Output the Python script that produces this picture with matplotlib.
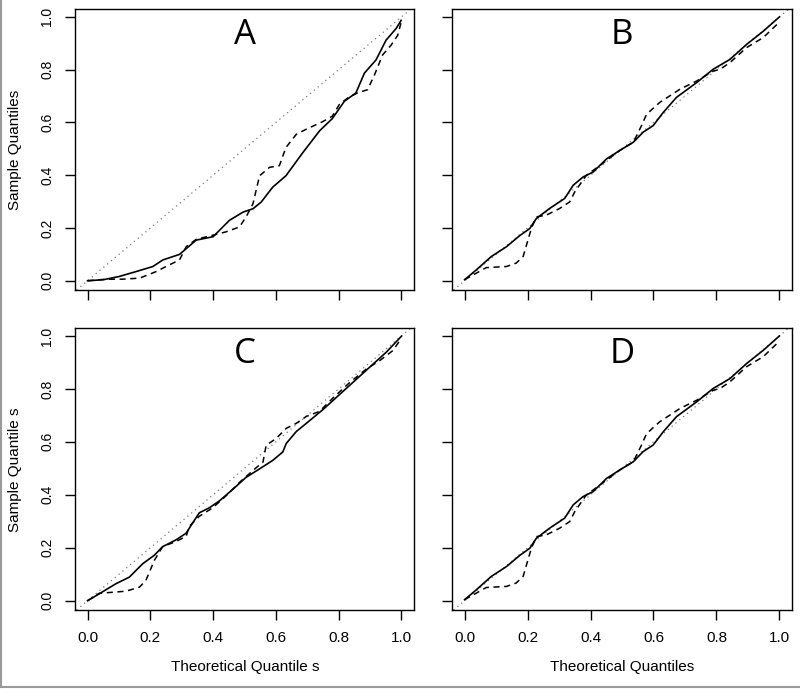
import matplotlib
matplotlib.use('Agg')
import matplotlib.pyplot as plt

# Panel A
a_solid_x = [0, 0.05, 0.10, 0.155, 0.208, 0.24, 0.293, 0.346, 0.40, 0.452, 0.495, 0.527, 0.553,
             0.59, 0.632, 0.686, 0.739, 0.78, 0.818, 0.855, 0.882, 0.919, 0.951, 0.983, 0.999]
a_solid_y = [0, 0.004, 0.016, 0.035, 0.054, 0.079, 0.10, 0.154, 0.167, 0.229, 0.26, 0.273, 0.298,
             0.355, 0.398, 0.486, 0.568, 0.615, 0.68, 0.712, 0.787, 0.837, 0.912, 0.956, 0.987]
a_dash_x = [0, 0.06, 0.112, 0.166, 0.219, 0.25, 0.293, 0.314, 0.346, 0.40, 0.44, 0.484, 0.505,
            0.527, 0.548, 0.58, 0.611, 0.632, 0.665, 0.696, 0.749, 0.78, 0.802, 0.829, 0.86,
            0.892, 0.914, 0.94, 0.967, 0.988, 0.999]
a_dash_y = [0, 0.006, 0.006, 0.01, 0.035, 0.054, 0.079, 0.129, 0.157, 0.173, 0.185, 0.204, 0.242,
            0.292, 0.398, 0.43, 0.436, 0.505, 0.555, 0.574, 0.603, 0.624, 0.668, 0.693, 0.712,
            0.724, 0.78, 0.856, 0.893, 0.93, 0.98]

# Panel B
b_solid_x = [0, 0.037, 0.085, 0.133, 0.175, 0.207, 0.228, 0.27, 0.318, 0.345, 0.376, 0.408, 0.451,
             0.493, 0.536, 0.567, 0.599, 0.631, 0.673, 0.737, 0.79, 0.843, 0.896, 0.949, 1.0]
b_solid_y = [0.004, 0.041, 0.092, 0.129, 0.171, 0.198, 0.236, 0.274, 0.312, 0.362, 0.393, 0.412, 0.462,
             0.494, 0.525, 0.563, 0.588, 0.638, 0.695, 0.751, 0.802, 0.839, 0.896, 0.946, 1.0]
b_dash_x = [0, 0.069, 0.133, 0.164, 0.186, 0.212, 0.228, 0.26, 0.302, 0.334, 0.35, 0.387, 0.43,
            0.493, 0.536, 0.562, 0.578, 0.62, 0.684, 0.737, 0.79, 0.811, 0.843, 0.896, 0.949, 0.997]
b_dash_y = [0.004, 0.05, 0.054, 0.067, 0.092, 0.198, 0.242, 0.249, 0.274, 0.299, 0.337, 0.40, 0.437,
            0.494, 0.525, 0.588, 0.631, 0.676, 0.726, 0.757, 0.795, 0.801, 0.827, 0.884, 0.922, 0.977]

# Panel C
c_solid_x = [0, 0.037, 0.09, 0.133, 0.176, 0.213, 0.239, 0.282, 0.314, 0.335, 0.356, 0.388, 0.42,
             0.463, 0.505, 0.548, 0.59, 0.622, 0.633, 0.665, 0.697, 0.75, 0.803, 0.856, 0.91, 0.952, 1.0]
c_solid_y = [0, 0.026, 0.064, 0.089, 0.14, 0.172, 0.204, 0.23, 0.255, 0.294, 0.332, 0.351, 0.377,
             0.421, 0.466, 0.498, 0.53, 0.562, 0.594, 0.639, 0.67, 0.722, 0.779, 0.836, 0.894, 0.939, 0.999]
c_dash_x = [0, 0.037, 0.08, 0.122, 0.165, 0.186, 0.213, 0.239, 0.282, 0.314, 0.324, 0.356, 0.399,
            0.441, 0.484, 0.527, 0.559, 0.569, 0.601, 0.633, 0.665, 0.697, 0.739, 0.782, 0.835,
            0.888, 0.931, 0.973, 0.995]
c_dash_y = [0, 0.028, 0.032, 0.036, 0.051, 0.077, 0.153, 0.204, 0.224, 0.243, 0.281, 0.319, 0.351,
            0.396, 0.447, 0.492, 0.524, 0.587, 0.613, 0.651, 0.67, 0.696, 0.715, 0.766, 0.824,
            0.875, 0.907, 0.945, 0.983]

# Panel D (same sample as B)
d_solid_x, d_solid_y = b_solid_x, b_solid_y
d_dash_x, d_dash_y = b_dash_x, b_dash_y

panels = [
    ('A', a_solid_x, a_solid_y, a_dash_x, a_dash_y),
    ('B', b_solid_x, b_solid_y, b_dash_x, b_dash_y),
    ('C', c_solid_x, c_solid_y, c_dash_x, c_dash_y),
    ('D', d_solid_x, d_solid_y, d_dash_x, d_dash_y),
]
ticks = [0.0, 0.2, 0.4, 0.6, 0.8, 1.0]
tick_labels = ['0.0', '0.2', '0.4', '0.6', '0.8', '1.0']

W, H = 800, 689
fig = plt.figure(figsize=(8, 6.89), dpi=100)

# axes boxes in pixels: left, top, right, bottom
boxes = [(75, 9, 414, 290), (452, 9, 792, 290), (75, 328, 414, 610), (452, 328, 792, 610)]

label_font = ['Liberation Sans Narrow', 'Liberation Sans', 'DejaVu Sans']

for i, (box, p) in enumerate(zip(boxes, panels)):
    l, t, r, b = box
    ax = fig.add_axes([l / W, (H - b) / H, (r - l) / W, (b - t) / H])
    name, sx, sy, dx, dy = p
    ax.axline((0, 0), (1, 1), color='#777777', linestyle=(0, (1, 3)), linewidth=0.9)
    ax.plot(dx, dy, color='black', linestyle=(0, (4, 3)), linewidth=1.1)
    ax.plot(sx, sy, color='black', linewidth=1.2)
    ax.set_xlim(-0.04, 1.04)
    ax.set_ylim(-0.035, 1.03)
    ax.set_xticks(ticks)
    ax.set_yticks(ticks)
    if i >= 2:
        ax.set_xticklabels(tick_labels, family=label_font, fontsize=11)
    else:
        ax.set_xticklabels([])
    if i % 2 == 0:
        ax.set_yticklabels(tick_labels, family=['Liberation Sans', 'DejaVu Sans'], fontsize=10,
                           rotation=90, va='center')
    else:
        ax.set_yticklabels([])
    ax.tick_params(direction='out', length=7, width=1, pad=8, colors='black')
    for s in ax.spines.values():
        s.set_linewidth(1.0)
    ax.text(0.5, 0.93, name, ha='center', va='center', fontsize=25,
            family=['Open Sans', 'DejaVu Sans'])

fig.text(15 / W, 1 - 150 / H, 'Sample Quantiles', rotation=90, ha='center', va='center',
         fontsize=11, family=label_font)
fig.text(15 / W, 1 - 470 / H, 'Sample Quantile s', rotation=90, ha='center', va='center',
         fontsize=11, family=label_font)
fig.text(245 / W, 1 - 667 / H, 'Theoretical Quantile s', ha='center', va='center',
         fontsize=11, family=label_font)
fig.text(622 / W, 1 - 667 / H, 'Theoretical Quantiles', ha='center', va='center',
         fontsize=11, family=label_font)

# gray frame on left and bottom
fig.add_artist(plt.Line2D([1 / W, 1 / W], [2 / H, 1], transform=fig.transFigure,
                          color='#999999', linewidth=1.5))
fig.add_artist(plt.Line2D([1 / W, 1], [2 / H, 2 / H], transform=fig.transFigure,
                          color='#999999', linewidth=1.5))

fig.savefig('out.png', dpi=100)
